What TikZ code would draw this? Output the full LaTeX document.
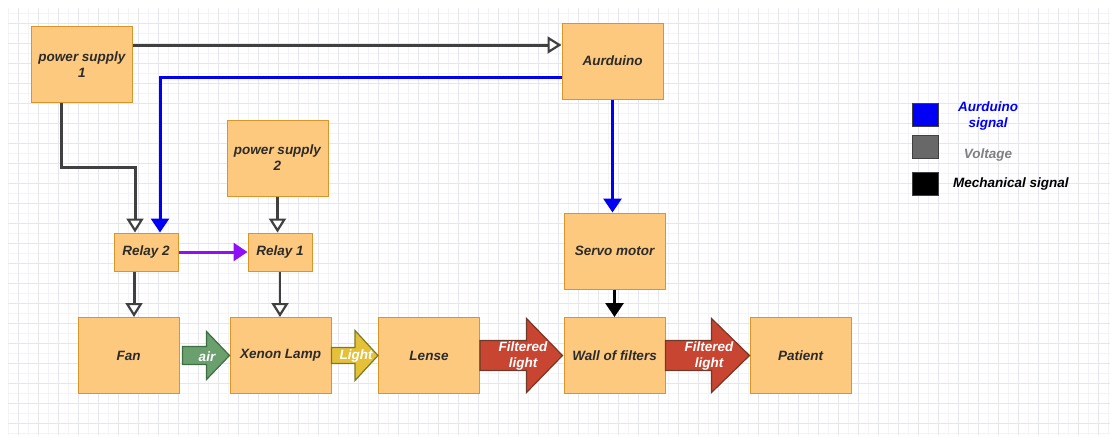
\documentclass[tikz,border=0pt]{standalone}
\usepackage{fontspec}
\setmainfont{Liberation Sans}
\usetikzlibrary{arrows.meta,calc,positioning}
\definecolor{boxfill}{HTML}{FDC97E}
\definecolor{boxline}{HTML}{D9952A}
\definecolor{boxtext}{HTML}{2B2B2B}
\definecolor{voltgray}{HTML}{404040}
\definecolor{sigblue}{HTML}{0000F5}
\definecolor{relaypurple}{HTML}{8F10F5}
\definecolor{keygray}{HTML}{686868}
\definecolor{airfill}{HTML}{6A9F6E}
\definecolor{airline}{HTML}{3F6E45}
\definecolor{lightfill}{HTML}{E5C13A}
\definecolor{lightline}{HTML}{7A7A2A}
\definecolor{filtfill}{HTML}{C84531}
\definecolor{filtline}{HTML}{6E3A2A}
\definecolor{minorline}{HTML}{F4F4F8}
\definecolor{majorline}{HTML}{E6E6EF}
\tikzset
{
    block/.style = {rectangle, draw=boxline, fill=boxfill, line width=1pt, align=center, minimum width=101pt, minimum height=76pt, inner sep=0pt, text=boxtext, font=\fontsize{13.5}{16}\selectfont\bfseries\itshape},
    relay/.style = {block, minimum width=64pt, minimum height=38pt},
    volt/.style = {draw=voltgray, line width=3pt, -{Triangle[fill=white, length=14pt, width=17pt, line width=2.2pt]}},
    sig/.style = {draw=sigblue, line width=3pt, -{Triangle[length=14pt, width=18pt]}},
    relaysig/.style = {draw=relaypurple, line width=3pt, -{Triangle[length=14pt, width=18pt]}},
    mech/.style = {draw=black, line width=3pt, -{Triangle[length=14pt, width=18pt]}},
    flow/.style = {line width=1.2pt, line join=miter},
    airflow/.style = {flow, fill=airfill, draw=airline},
    lightflow/.style = {flow, fill=lightfill, draw=lightline},
    filtflow/.style = {flow, fill=filtfill, draw=filtline},
    flowlabel/.style = {text=white, align=center, inner sep=0pt, font=\fontsize{13.5}{16}\selectfont\bfseries\itshape},
    legendbox/.style = {rectangle, draw=black!75, line width=0.8pt, minimum width=26pt, minimum height=23pt, inner sep=0pt},
    legendtext/.style = {align=center, inner sep=0pt, font=\fontsize{13.5}{16}\selectfont\bfseries\itshape},
    minorgrid/.style = {draw=minorline, line width=0.6pt},
    majorgrid/.style = {draw=majorline, line width=0.8pt}
}

\begin{document}
\begin{tikzpicture}[x=1pt, y=-1pt]
\useasboundingbox (0,0) rectangle (1110,437);
\fill[white] (0,0) rectangle (1110,437);
% grid
\foreach \x in {8,28,...,1108} \draw[minorgrid] (\x,8) -- (\x,435);
\foreach \y in {13,33,...,433} \draw[minorgrid] (8,\y) -- (1110,\y);
\foreach \x in {18,38,...,1098} \draw[majorgrid] (\x,8) -- (\x,435);
\foreach \y in {23,43,...,423} \draw[majorgrid] (8,\y) -- (1110,\y);

% boxes
\node[block] (ps1) at (82,64.5) {power supply\\1};
\node[block] (ard) at (612.5,61) {Aurduino};
\node[block] (ps2) at (277.5,158) {power supply\\2};
\node[relay] (relay2) at (146,252) {Relay 2};
\node[relay] (relay1) at (280,252) {Relay 1};
\node[block] (servo) at (614.5,251) {Servo motor};
\node[block] (fan) at (128.5,355.5) {Fan};
\node[block] (xenon) at (280.5,355.5) {Xenon Lamp};
\node[block] (lense) at (429,355.5) {Lense};
\node[block] (wall) at (614.5,355.5) {Wall of filters};
\node[block] (patient) at (800.5,355.5) {Patient};

% signal and voltage lines
\coordinate (ps1out) at ([yshift=19.5pt]ps1.east);
\draw[volt] (ps1out) -- (ps1out -| ard.west);
\coordinate (ardsig) at ([yshift=-16pt]ard.west);
\coordinate (r2sig) at ([xshift=14pt]relay2.north);
\draw[sig] (ardsig) -| (r2sig);
\coordinate (ps1down) at ([xshift=-21pt]ps1.south);
\coordinate (r2volt) at ([xshift=-11pt]relay2.north);
\draw[volt] (ps1down) |- ($(r2volt)+(0,-65)$) -- (r2volt);
\draw[volt] (ps2.south) -- (ps2.south |- relay1.north);
\draw[relaysig] (relay2.east) -- (relay1.west);
\coordinate (r2out) at ([xshift=-12pt]relay2.south);
\draw[volt] (r2out) -- (r2out |- fan.north);
\draw[volt, line width=2pt] (relay1.south) -- (relay1.south |- xenon.north);
\draw[sig] (ard.south) -- (ard.south |- servo.north);
\draw[mech] (servo.south) -- (wall.north);

% block arrows
\draw[airflow] ($(fan.east)+(3,-9)$) -- ($(xenon.west)+(-23,-9)$) -- ($(xenon.west)+(-23,-24)$) -- (xenon.west)
  -- ($(xenon.west)+(-23,24)$) -- ($(xenon.west)+(-23,9)$) -- ($(fan.east)+(3,9)$) -- cycle;
\draw[lightflow] ($(xenon.east)+(0,-8)$) -- ($(lense.west)+(-23,-8)$) -- ($(lense.west)+(-23,-25)$) -- (lense.west)
  -- ($(lense.west)+(-23,25)$) -- ($(lense.west)+(-23,8)$) -- ($(xenon.east)+(0,8)$) -- cycle;
\draw[filtflow] ($(lense.east)+(0,-15)$) -- ($(wall.west)+(-37,-15)$) -- ($(wall.west)+(-37,-37)$) -- ($(wall.west)+(-1,0)$)
  -- ($(wall.west)+(-37,37)$) -- ($(wall.west)+(-37,15)$) -- ($(lense.east)+(0,15)$) -- cycle;
\draw[filtflow] ($(wall.east)+(0,-15)$) -- ($(patient.west)+(-38,-15)$) -- ($(patient.west)+(-38,-37)$) -- (patient.west)
  -- ($(patient.west)+(-38,37)$) -- ($(patient.west)+(-38,15)$) -- ($(wall.east)+(0,15)$) -- cycle;
\node[flowlabel] (airtxt) at (207,357) {air};
\node[flowlabel] (lighttxt) at (356,356) {Light};
\node[flowlabel] (filt1) at (523,356) {Filtered\\light};
\node[flowlabel] (filt2) at (709,356) {Filtered\\light};

% legend
\node[legendbox, fill=sigblue] (keysig) at (925,114.5) {};
\node[legendtext, text=sigblue] (keysigtxt) at (988,116) {Aurduino\\signal};
\node[legendbox, fill=keygray] (keyvolt) at (925,147) {};
\node[legendtext, text=gray] (keyvolttxt) at (988,155) {Voltage};
\node[legendbox, fill=black] (keymech) at (925,183.5) {};
\node[legendtext, anchor=west] (keymechtxt) at (953,184) {Mechanical signal};
\end{tikzpicture}
\end{document}
